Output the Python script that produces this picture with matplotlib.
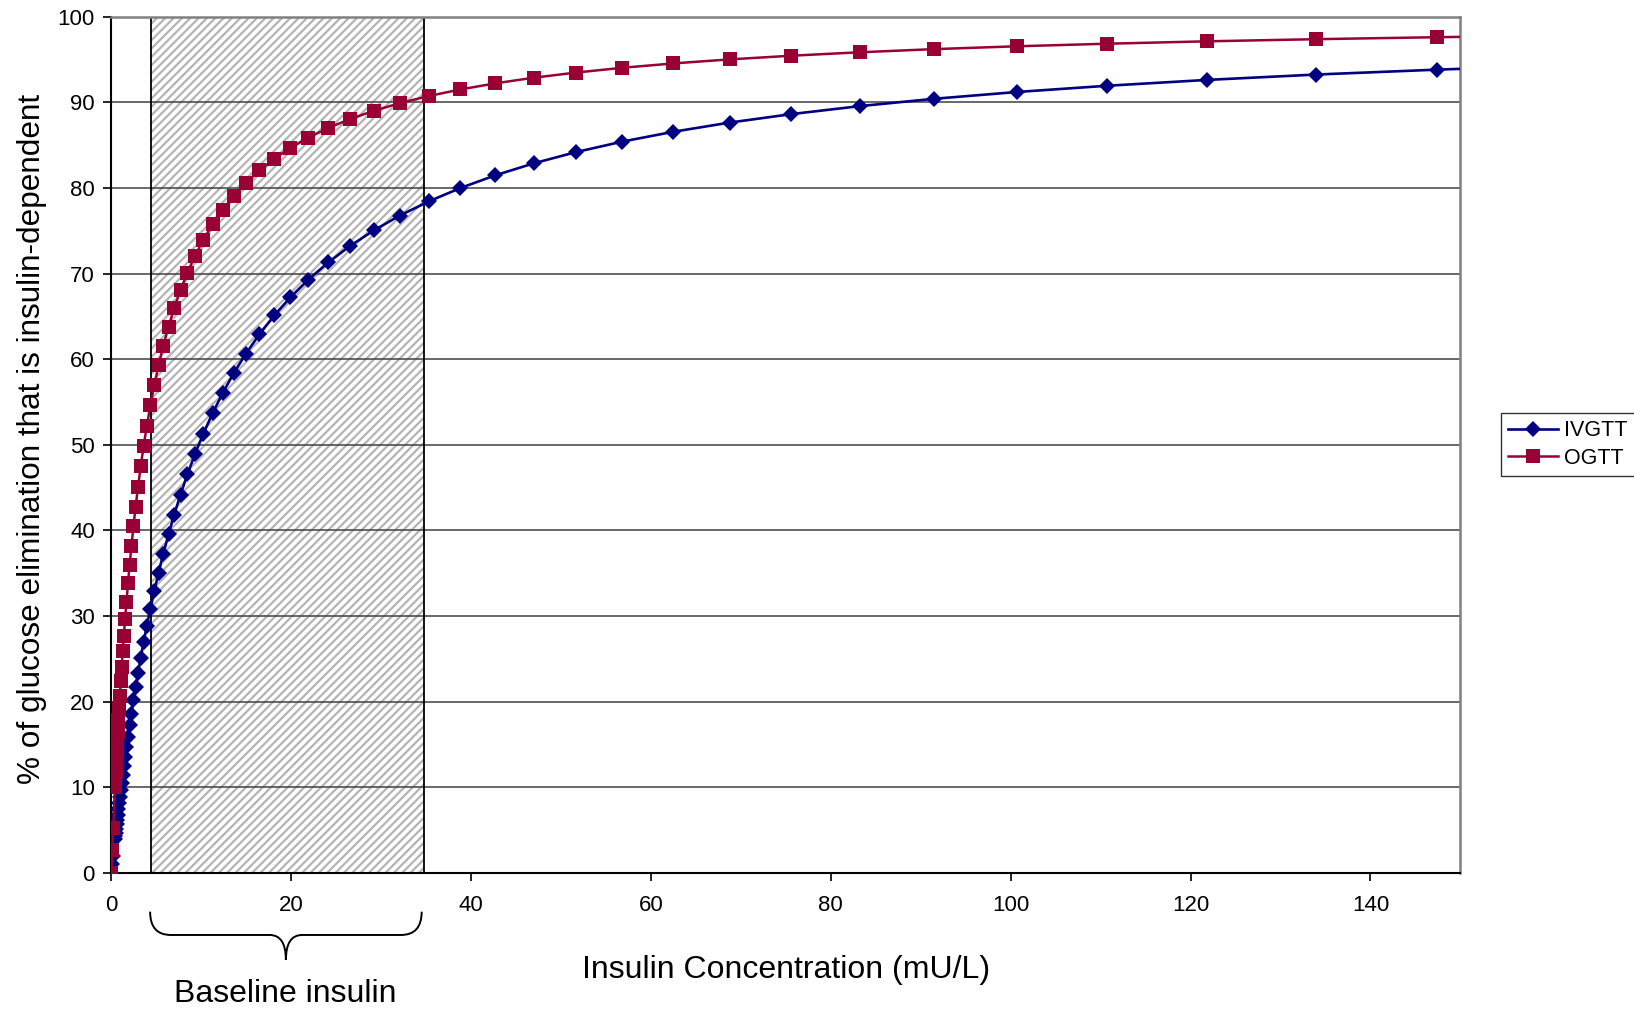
import matplotlib
matplotlib.use("Agg")
import matplotlib.pyplot as plt
from matplotlib.path import Path
from matplotlib.patches import PathPatch
import matplotlib.transforms as mtransforms

plt.rcParams['font.family'] = ['Liberation Sans', 'DejaVu Sans']

# ---- data ----
insulin = [0, 0.1, 0.2, 0.40, 0.44, 0.48, 0.53, 0.59, 0.64, 0.71, 0.78, 0.86, 0.94,
           1.04, 1.14, 1.26, 1.38, 1.52, 1.67, 1.84, 2.02, 2.22, 2.45, 2.69, 2.96,
           3.26, 3.58, 3.94, 4.33, 4.77, 5.24, 5.77, 6.35, 6.98, 7.68, 8.45, 9.29,
           10.22, 11.24, 12.37, 13.60, 14.96, 16.46, 18.10, 19.91, 21.91, 24.10,
           26.51, 29.16, 32.07, 35.28, 38.81, 42.69, 46.96, 51.65, 56.82, 62.50,
           68.75, 75.62, 83.19, 91.51, 100.66, 110.72, 121.79, 133.97, 147.37, 162.11]

ivgtt = [0, 1.02, 2.02, 3.96, 4.34, 4.72, 5.18, 5.73, 6.19, 6.82, 7.44, 8.14, 8.83,
         9.68, 10.52, 11.50, 12.45, 13.55, 14.69, 15.94, 17.24, 18.62, 20.16, 21.71, 23.38,
         25.15, 26.96, 28.89, 30.86, 32.96, 35.07, 37.30, 39.56, 41.85, 44.19, 46.56, 48.92,
         51.31, 53.68, 56.05, 58.37, 60.66, 62.92, 65.11, 67.24, 69.31, 71.30,
         73.21, 75.04, 76.78, 78.43, 80.00, 81.48, 82.88, 84.19, 85.42, 86.57,
         87.64, 88.63, 89.56, 90.42, 91.21, 91.94, 92.62, 93.25, 93.82, 94.35]

ogtt = [0, 2.70, 5.26, 10.00, 10.89, 11.76, 12.83, 14.08, 15.09, 16.47, 17.81, 19.28, 20.70,
        22.41, 24.05, 25.93, 27.71, 29.69, 31.69, 33.82, 35.94, 38.14, 40.50, 42.77, 45.12,
        47.52, 49.86, 52.25, 54.60, 56.99, 59.28, 61.58, 63.82, 65.97, 68.09, 70.12, 72.07,
        73.95, 75.74, 77.46, 79.07, 80.61, 82.05, 83.41, 84.69, 85.89, 87.00,
        88.04, 89.01, 89.91, 90.74, 91.51, 92.22, 92.88, 93.48, 94.04, 94.55,
        95.02, 95.45, 95.85, 96.22, 96.55, 96.85, 97.13, 97.38, 97.61, 97.83]

baseline_range = [4.4, 34.8]
x_ticks = [0, 20, 40, 60, 80, 100, 120, 140]
y_ticks = [0, 10, 20, 30, 40, 50, 60, 70, 80, 90, 100]

# ---- figure ----
fig = plt.figure(figsize=(16.34, 10.09), dpi=100)
ax = fig.add_axes([0.0682, 0.1348, 0.8255, 0.8486])

ax.set_xlim(0, 150)
ax.set_ylim(0, 100)

plt.rcParams['hatch.linewidth'] = 1.6
ax.axvspan(baseline_range[0], baseline_range[1], facecolor='white',
           edgecolor='#b4b4b4', hatch='////', linewidth=0, zorder=0.3)
for xb in baseline_range:
    ax.axvline(xb, color='black', lw=1.3, zorder=0.6)

ax.set_axisbelow(True)
ax.yaxis.grid(True, color='#404040', lw=1.1)
ax.xaxis.grid(False)

ax.plot(insulin, ivgtt, color='#000080', lw=1.9, marker='D', markersize=8,
        markeredgewidth=0, label='IVGTT', zorder=3)
ax.plot(insulin, ogtt, color='#990033', lw=1.8, marker='s', markersize=10,
        markeredgewidth=0, label='OGTT', zorder=4)

ax.set_xticks(x_ticks)
ax.set_yticks(y_ticks)
ax.tick_params(axis='both', direction='out', labelsize=16, length=6, width=1.2, color='black')
ax.tick_params(axis='x', pad=10)
ax.tick_params(axis='y', pad=6)

for s in ['left', 'bottom']:
    ax.spines[s].set_color('black')
    ax.spines[s].set_linewidth(1.5)
for s in ['top', 'right']:
    ax.spines[s].set_color('#808080')
    ax.spines[s].set_linewidth(1.8)

ax.set_xlabel('Insulin Concentration (mU/L)', fontsize=23, labelpad=28)
ax.set_ylabel('% of glucose elimination that is insulin-dependent', fontsize=22.7,
              family=['Liberation Sans Narrow', 'Liberation Sans'])
ax.yaxis.set_label_coords(-0.0478, 0.507)

# curly brace under the baseline range
trans = mtransforms.blended_transform_factory(ax.transData, ax.transAxes)
x0, x1 = 4.3, 34.5
xc = (x0 + x1) / 2
ft, fm, fp = -0.0452, -0.0724, -0.1016
r = 2.3
rc = 1.8
verts = [(x0, ft), (x0, fm), (x0 + r, fm),
         (xc - rc, fm),
         (xc, fm), (xc, fp),
         (xc, fm), (xc + rc, fm),
         (x1 - r, fm),
         (x1, fm), (x1, ft)]
codes = [Path.MOVETO, Path.CURVE3, Path.CURVE3,
         Path.LINETO,
         Path.CURVE3, Path.CURVE3,
         Path.CURVE3, Path.CURVE3,
         Path.LINETO,
         Path.CURVE3, Path.CURVE3]
brace = PathPatch(Path(verts, codes), transform=trans, fill=False,
                  edgecolor='black', lw=1.4, clip_on=False)
ax.add_patch(brace)
ax.text(19.3, -0.1415, 'Baseline insulin', transform=trans, ha='center', va='center',
        fontsize=23)

leg = fig.legend(loc='center left', bbox_to_anchor=(0.9185, 0.5595), fontsize=15.5,
                 frameon=True, fancybox=False, handlelength=2.3, handletextpad=0.3,
                 borderpad=0.35, labelspacing=0.3, borderaxespad=0)
leg.get_frame().set_edgecolor('black')
leg.get_frame().set_linewidth(1.0)

fig.savefig('out.png', dpi=100)
